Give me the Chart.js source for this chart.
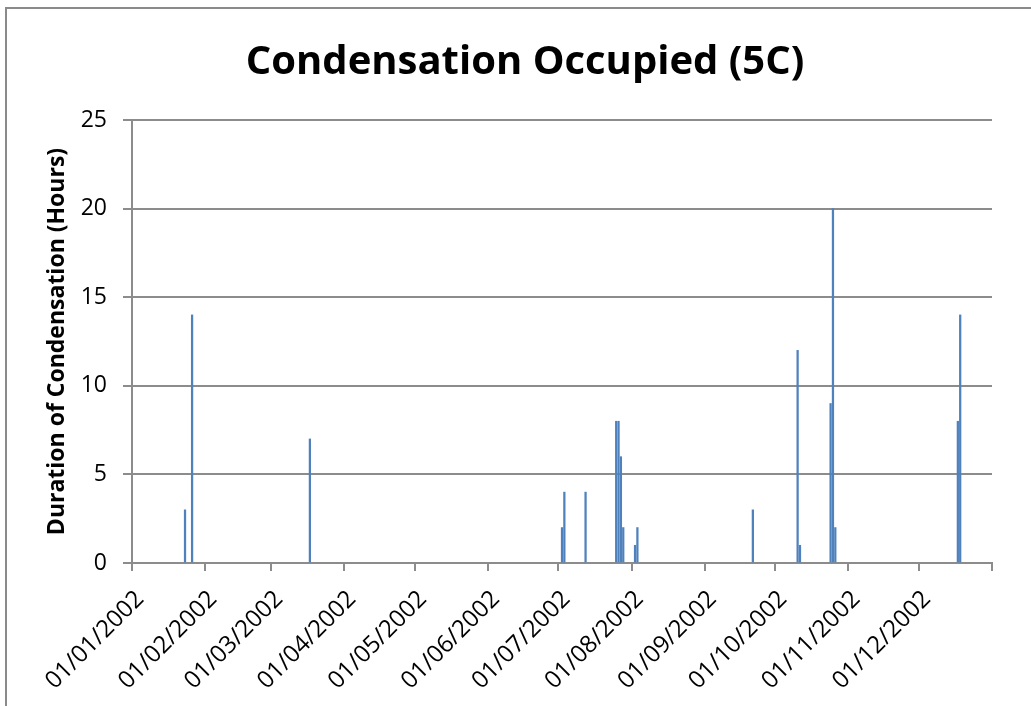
<!DOCTYPE html>
<html>
<head>
<meta charset="utf-8">
<title>Condensation Occupied (5C)</title>
<script src="https://cdn.jsdelivr.net/npm/chart.js@4"></script>
<style>
  html, body { margin: 0; padding: 0; background: #fff; overflow: hidden; }
  #wrap { position: relative; width: 1031px; height: 706px; }
  #frame { position: absolute; left: 5px; top: 7px; width: 1100px; height: 800px;
           border-left: 2px solid #8a8a8a; border-top: 2px solid #8a8a8a; }
  #myChart { position: absolute; left: 0; top: 0; }
</style>
</head>
<body>
<div id="wrap">
  <div id="frame"></div>
  <canvas id="myChart" width="1031" height="706"></canvas>
</div>
<script>
// days with condensation (dd/mm/yyyy) and hours on each day
const dates = [
  '23/01/2002', '26/01/2002', '17/03/2002',
  '02/07/2002', '03/07/2002', '12/07/2002',
  '25/07/2002', '26/07/2002', '27/07/2002', '28/07/2002',
  '02/08/2002', '03/08/2002', '21/09/2002',
  '10/10/2002', '11/10/2002', '24/10/2002', '25/10/2002', '26/10/2002',
  '17/12/2002', '18/12/2002'
];
const hours = [3, 14, 7, 2, 4, 4, 8, 8, 6, 2, 1, 2, 3, 12, 1, 9, 20, 2, 8, 14];

const tickLabels = [
  '01/01/2002', '01/02/2002', '01/03/2002', '01/04/2002', '01/05/2002', '01/06/2002',
  '01/07/2002', '01/08/2002', '01/09/2002', '01/10/2002', '01/11/2002', '01/12/2002'
];
const yTicks = [0, 5, 10, 15, 20, 25];

const FONT = "'Open Sans', 'Liberation Sans', sans-serif";
const GRID = '#8c8c8c';

// day number in the year (0 = 1 Jan)
const dayOf = (s) => {
  const [d, m, y] = s.split('/').map(Number);
  return (Date.UTC(y, m - 1, d) - Date.UTC(y, 0, 1)) / 86400000;
};
const tickDays = tickLabels.map(dayOf);
const yearEnd = 365;

const points = dates.map((d, i) => ({ x: dayOf(d) + 0.5, y: hours[i] }));

const ctx = document.getElementById('myChart').getContext('2d');
const myChart = new Chart(ctx, {
  type: 'bar',
  data: {
    datasets: [{
      data: points,
      backgroundColor: '#4F81BD',
      borderWidth: 0,
      barThickness: 1.6
    }]
  },
  options: {
    responsive: false,
    animation: false,
    // extra left padding pushes the title centre a bit right, like the original
    layout: { padding: { left: 58, right: 39, top: 0, bottom: 0 } },
    plugins: {
      legend: { display: false },
      tooltip: { enabled: false },
      title: {
        display: true,
        text: 'Condensation Occupied (5C)',
        color: '#000',
        font: { family: FONT, size: 40, weight: 'bold' },
        padding: { top: 39, bottom: 33 }
      }
    },
    scales: {
      x: {
        type: 'linear',
        offset: false,
        min: 0,
        max: yearEnd,
        afterBuildTicks: (scale) => {
          scale.ticks = tickDays.concat([yearEnd]).map(v => ({ value: v }));
        },
        afterFit: (scale) => { scale.height = 143; },
        grid: { offset: false, drawOnChartArea: false, drawTicks: true, tickLength: 8, color: GRID, lineWidth: 2 },
        border: { color: GRID, width: 2 },
        ticks: {
          autoSkip: false,
          minRotation: 45,
          maxRotation: 45,
          padding: 14,
          labelOffset: 8,
          color: '#000',
          font: { family: FONT, size: 24 },
          callback: (v) => {
            const i = tickDays.indexOf(v);
            return i >= 0 ? tickLabels[i] : '';
          }
        }
      },
      y: {
        min: 0,
        max: 25,
        afterBuildTicks: (scale) => {
          scale.ticks = yTicks.map(v => ({ value: v }));
        },
        afterFit: (scale) => { scale.width = 132 - 58; },
        grid: { color: GRID, lineWidth: 2, tickLength: 9 },
        border: { color: GRID, width: 2 },
        ticks: {
          padding: 16,
          color: '#000',
          font: { family: FONT, size: 23 }
        },
        title: {
          display: true,
          text: 'Duration of Condensation (Hours)',
          color: '#000',
          font: { family: FONT, size: 23, weight: 'bold' },
          padding: { top: -14, bottom: 0 }
        }
      }
    }
  }
});
</script>
</body>
</html>
